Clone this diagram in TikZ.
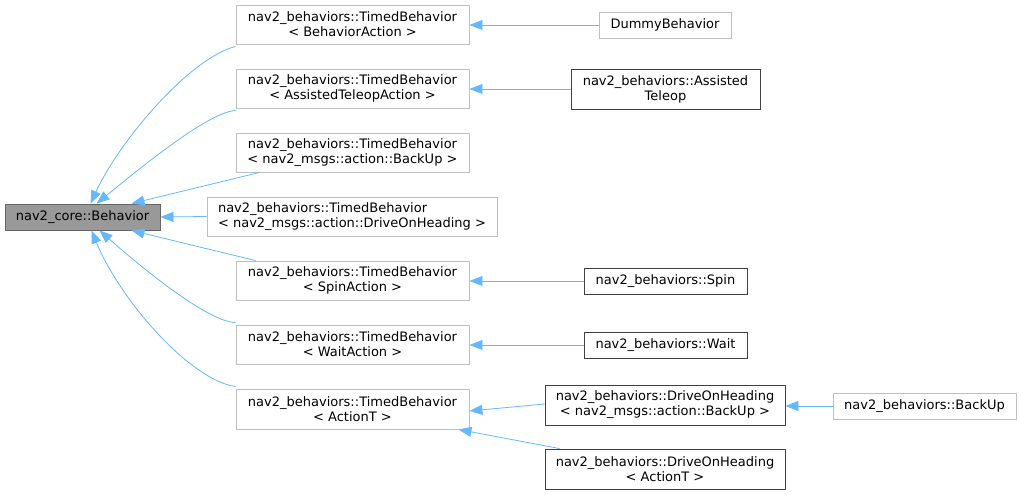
\documentclass[tikz,border=0pt]{standalone}
\usepackage{fontspec}
\setmainfont{DejaVu Sans}
\usetikzlibrary{arrows.meta}
\definecolor{edgeblue}{HTML}{63B8FF}
\definecolor{lightframe}{HTML}{BFBFBF}
\definecolor{darkframe}{HTML}{404040}
\definecolor{basefill}{HTML}{999999}
\definecolor{baseframe}{HTML}{666666}
\begin{document}
\begin{tikzpicture}[x=1pt,y=-1pt,
  every node/.style={font=\fontsize{13}{15}\selectfont, inner sep=0pt, align=center},
  klass/.style={draw=lightframe, fill=white, line width=0.9pt},
  docklass/.style={draw=darkframe, fill=white, line width=0.9pt},
  baseklass/.style={draw=baseframe, fill=basefill, line width=0.9pt},
  inherit/.style={draw=edgeblue, line width=0.8pt, -{Triangle[length=13pt,width=10pt]}}]
  \useasboundingbox (0,0) rectangle (1021,495);
  \node[baseklass, minimum width=155pt, minimum height=26pt] (base) at (82.5,217) {nav2\_core::Behavior};
  \node[klass, minimum width=233pt, minimum height=39pt] (tba) at (352.5,24.5) {nav2\_behaviors::TimedBehavior\\{< BehaviorAction >}};
  \node[klass, minimum width=233pt, minimum height=39pt] (tbb) at (352.5,88.5) {nav2\_behaviors::TimedBehavior\\{< AssistedTeleopAction >}};
  \node[klass, minimum width=233pt, minimum height=39pt] (tbc) at (352.5,152.5) {nav2\_behaviors::TimedBehavior\\{< nav2\_msgs::action::BackUp >}};
  \node[klass, minimum width=290pt, minimum height=39pt, align=left] (tbd) at (352,216.5) {nav2\_behaviors::TimedBehavior\\{< nav2\_msgs::action::DriveOnHeading >}};
  \node[klass, minimum width=233pt, minimum height=39pt] (tbe) at (352.5,280.5) {nav2\_behaviors::TimedBehavior\\{< SpinAction >}};
  \node[klass, minimum width=233pt, minimum height=39pt] (tbf) at (352.5,344.5) {nav2\_behaviors::TimedBehavior\\{< WaitAction >}};
  \node[klass, minimum width=233pt, minimum height=40pt] (tbg) at (352.5,409) {nav2\_behaviors::TimedBehavior\\{< ActionT >}};
  \node[klass, minimum width=132pt, minimum height=26pt] (dummy) at (665,25) {DummyBehavior};
  \node[docklass, minimum width=189pt, minimum height=40pt] (teleop) at (665.5,89) {nav2\_behaviors::Assisted\\Teleop};
  \node[docklass, minimum width=163pt, minimum height=26pt] (spin) at (665.5,281) {nav2\_behaviors::Spin};
  \node[docklass, minimum width=163pt, minimum height=26pt] (wait) at (665.5,345) {nav2\_behaviors::Wait};
  \node[docklass, minimum width=240pt, minimum height=40pt] (dohb) at (665,405) {nav2\_behaviors::DriveOnHeading\\{< nav2\_msgs::action::BackUp >}};
  \node[docklass, minimum width=240pt, minimum height=40pt] (doha) at (665,469) {nav2\_behaviors::DriveOnHeading\\{< ActionT >}};
  \node[klass, minimum width=183pt, minimum height=26pt] (backup) at (924.5,406) {nav2\_behaviors::BackUp};
  % edges to the base class
  \draw[inherit] ([yshift=-2pt]tba.south west) .. controls (190,58) and (120,140) .. ([xshift=8pt]base.north);
  \draw[inherit] ([yshift=-2pt]tbb.south west) .. controls (210,112) and (150,160) .. ([xshift=14pt]base.north);
  \draw[inherit] ([xshift=24pt]tbc.south west) -- ([xshift=49pt]base.north);
  \draw[inherit] (tbd.west) -- (base.east);
  \draw[inherit] ([xshift=20pt]tbe.north west) -- ([xshift=49pt]base.south);
  \draw[inherit] ([yshift=2pt]tbf.north west) .. controls (210,322) and (150,275) .. ([xshift=17pt]base.south);
  \draw[inherit] ([yshift=2pt]tbg.north west) .. controls (190,380) and (120,300) .. ([xshift=9pt]base.south);
  % edges between derived classes
  \draw[inherit] (dummy.west) -- (dummy.west -| tba.east);
  \draw[inherit] (teleop.west) -- (teleop.west -| tbb.east);
  \draw[inherit] (spin.west) -- (spin.west -| tbe.east);
  \draw[inherit] (wait.west) -- (wait.west -| tbf.east);
  \draw[inherit] ([yshift=1pt]dohb.west) -- ([yshift=-2pt]tbg.east);
  \draw[inherit] ([xshift=15pt]doha.north west) -- ([xshift=-11pt]tbg.south east);
  \draw[inherit] (backup.west) -- (backup.west -| dohb.east);
\end{tikzpicture}
\end{document}
